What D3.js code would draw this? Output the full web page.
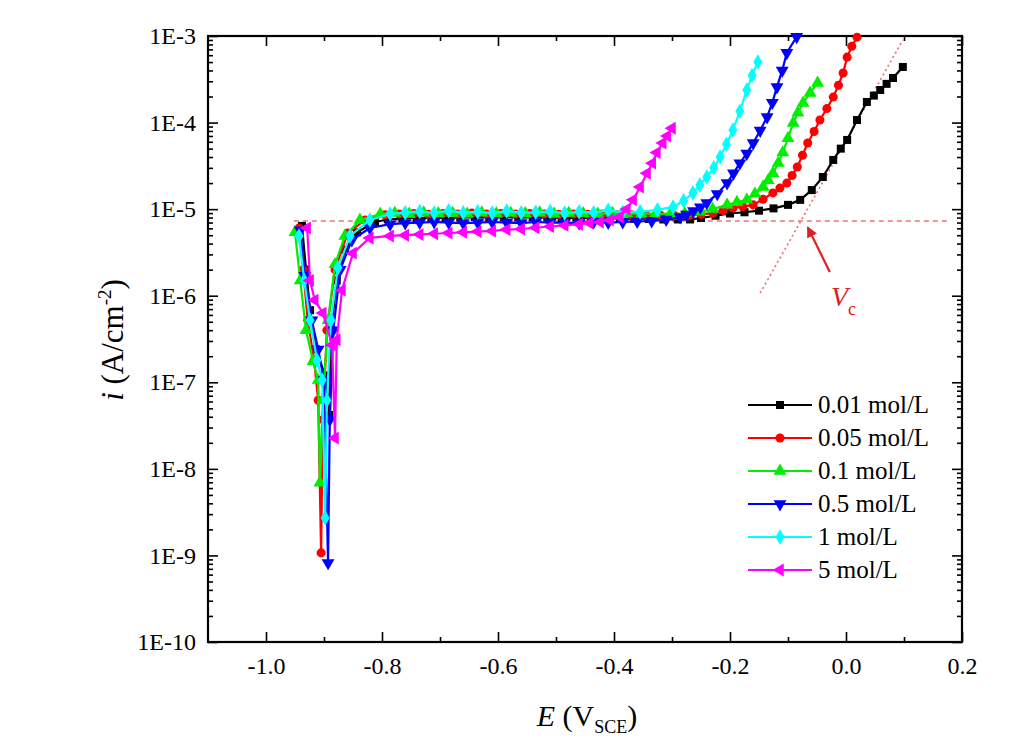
<!DOCTYPE html>
<html><head><meta charset="utf-8">
<script src="https://cdn.jsdelivr.net/npm/d3@7"></script>
<style>
body{margin:0;background:#fff}
svg{display:block}
text{font-family:"Liberation Serif","Times New Roman",serif;fill:#000}
</style>
</head><body>
<svg id="chart" width="1020" height="756"></svg>
<script>
// ---------- data ----------
const categories = ["0.01 mol/L","0.05 mol/L","0.1 mol/L","0.5 mol/L","1 mol/L","5 mol/L"];
const seriesColors = ["#000000","#ff0000","#00ee00","#0000ff","#00ffff","#ff00ff"];
const xMajorTicks = [-1.0,-0.8,-0.6,-0.4,-0.2,0.0,0.2];
const xMinorTicks = [-0.9,-0.7,-0.5,-0.3,-0.1,0.1];
const yMajorTicks = [1e-10,1e-9,1e-8,1e-7,1e-6,1e-5,1e-4,1e-3];
const yTickLabels = ["1E-10","1E-9","1E-8","1E-7","1E-6","1E-5","1E-4","1E-3"];

// [E (V_SCE), i (A/cm2)]
const s001 = [[-0.938,6.4e-6],[-0.931,2.0e-6],[-0.924,6.8e-7],[-0.914,2.4e-7],[-0.898,1.2e-7],[-0.891,4.2e-8],[-0.888,4.0e-7],[-0.878,1.5e-6],[-0.864,3.4e-6],[-0.843,5.4e-6],[-0.812,7.1e-6],
 [-0.79,7.6e-6],[-0.765,7.8e-6],[-0.74,7.9e-6],[-0.715,8.0e-6],[-0.69,7.9e-6],[-0.665,8.0e-6],[-0.64,8.1e-6],[-0.615,8.0e-6],[-0.59,8.1e-6],[-0.565,8.0e-6],[-0.54,8.1e-6],[-0.515,8.0e-6],[-0.49,7.9e-6],[-0.465,8.0e-6],[-0.44,7.9e-6],[-0.415,7.8e-6],[-0.39,7.8e-6],[-0.365,7.7e-6],[-0.34,7.7e-6],[-0.315,7.6e-6],[-0.29,7.6e-6],[-0.269,7.6e-6],
 [-0.25,7.9e-6],[-0.225,8.4e-6],[-0.2,8.9e-6],[-0.175,9.2e-6],[-0.15,9.6e-6],[-0.125,1.02e-5],[-0.1,1.12e-5],[-0.079,1.28e-5],[-0.059,1.66e-5],[-0.04,2.35e-5],[-0.022,3.7e-5],[-0.009,5.0e-5],[0.002,6.3e-5],[0.019,1.07e-4],[0.036,1.73e-4],[0.048,2.05e-4],[0.059,2.38e-4],[0.07,2.8e-4],[0.081,3.27e-4],[0.098,4.39e-4]];
const s005 = [[-0.943,6.05e-6],[-0.936,2.0e-6],[-0.928,5.2e-7],[-0.917,1.8e-7],[-0.91,6.2e-8],[-0.905,1.07e-9],[-0.902,3.7e-8],[-0.895,4.0e-7],[-0.881,2.0e-6],[-0.859,5.3e-6],[-0.829,7.5e-6],[-0.795,8.6e-6],
 [-0.77,8.8e-6],[-0.745,8.9e-6],[-0.72,8.7e-6],[-0.695,8.9e-6],[-0.67,8.8e-6],[-0.645,9.0e-6],[-0.62,8.8e-6],[-0.595,8.9e-6],[-0.57,8.8e-6],[-0.545,8.9e-6],[-0.52,8.8e-6],[-0.495,8.7e-6],[-0.47,8.8e-6],[-0.445,8.7e-6],[-0.42,8.8e-6],[-0.395,8.6e-6],[-0.37,8.6e-6],[-0.345,8.5e-6],[-0.32,8.5e-6],[-0.295,8.4e-6],[-0.27,8.5e-6],[-0.25,8.7e-6],
 [-0.229,9.0e-6],[-0.212,9.6e-6],[-0.195,1.03e-5],[-0.178,1.07e-5],[-0.16,1.12e-5],[-0.143,1.3e-5],[-0.126,1.54e-5],[-0.114,1.75e-5],[-0.102,2.0e-5],[-0.093,2.45e-5],[-0.084,3.07e-5],[-0.075,4.2e-5],[-0.066,5.8e-5],[-0.055,7.9e-5],[-0.045,1.07e-4],[-0.033,1.45e-4],[-0.022,1.97e-4],[-0.013,2.7e-4],[-0.005,3.74e-4],[0.002,5.7e-4],[0.01,7.6e-4],[0.019,9.7e-4]];
const s01 = [[-0.95,5.4e-6],[-0.941,1.5e-6],[-0.931,4.0e-7],[-0.919,1.75e-7],[-0.91,1.06e-7],[-0.907,6.9e-9],[-0.902,6.2e-8],[-0.893,5.2e-7],[-0.881,2.3e-6],[-0.864,4.9e-6],[-0.838,7.5e-6],[-0.803,8.8e-6],
 [-0.778,9.0e-6],[-0.753,8.8e-6],[-0.728,9.1e-6],[-0.703,8.9e-6],[-0.678,9.0e-6],[-0.653,8.8e-6],[-0.628,9.1e-6],[-0.603,8.9e-6],[-0.578,9.0e-6],[-0.553,8.9e-6],[-0.528,9.1e-6],[-0.503,8.8e-6],[-0.478,9.0e-6],[-0.453,8.9e-6],[-0.428,8.8e-6],[-0.403,9.0e-6],[-0.378,8.9e-6],[-0.353,8.8e-6],[-0.328,8.9e-6],[-0.303,8.8e-6],[-0.278,8.9e-6],
 [-0.252,9.3e-6],[-0.23,1.0e-5],[-0.205,1.12e-5],[-0.188,1.2e-5],[-0.171,1.28e-5],[-0.157,1.5e-5],[-0.143,1.8e-5],[-0.134,2.15e-5],[-0.126,2.6e-5],[-0.117,3.4e-5],[-0.109,4.5e-5],[-0.1,6.6e-5],[-0.091,9.9e-5],[-0.083,1.3e-4],[-0.074,1.68e-4],[-0.062,2.2e-4],[-0.049,2.86e-4]];
const s05 = [[-0.941,5.7e-6],[-0.933,1.7e-6],[-0.921,5.2e-7],[-0.91,2.4e-7],[-0.9,1.06e-7],[-0.893,8.2e-10],[-0.89,3.7e-8],[-0.884,4.0e-7],[-0.872,2.0e-6],[-0.852,4.4e-6],[-0.821,6.05e-6],[-0.786,6.7e-6],
 [-0.76,6.9e-6],[-0.735,7.0e-6],[-0.71,7.1e-6],[-0.685,7.0e-6],[-0.66,6.9e-6],[-0.635,7.0e-6],[-0.61,7.1e-6],[-0.585,7.0e-6],[-0.56,6.9e-6],[-0.535,7.1e-6],[-0.51,7.0e-6],[-0.485,7.0e-6],[-0.46,6.9e-6],[-0.435,7.1e-6],[-0.41,7.0e-6],[-0.385,7.1e-6],[-0.36,7.2e-6],[-0.335,7.3e-6],[-0.31,7.6e-6],
 [-0.286,8.1e-6],[-0.275,8.7e-6],[-0.263,9.5e-6],[-0.251,1.05e-5],[-0.24,1.18e-5],[-0.222,1.5e-5],[-0.205,2.0e-5],[-0.194,2.6e-5],[-0.183,3.4e-5],[-0.171,4.4e-5],[-0.16,5.8e-5],[-0.148,8.1e-5],[-0.136,1.16e-4],[-0.127,1.7e-4],[-0.119,2.58e-4],[-0.11,4.0e-4],[-0.102,6.4e-4],[-0.085,9.8e-4]];
const s1 = [[-0.943,4.9e-6],[-0.934,1.5e-6],[-0.924,5.2e-7],[-0.912,1.8e-7],[-0.903,1.06e-7],[-0.898,2.7e-9],[-0.895,6.2e-8],[-0.888,5.2e-7],[-0.876,2.1e-6],[-0.855,4.9e-6],[-0.821,7.5e-6],[-0.786,8.8e-6],
 [-0.76,9.1e-6],[-0.735,9.4e-6],[-0.71,9.0e-6],[-0.685,9.6e-6],[-0.66,9.1e-6],[-0.635,9.3e-6],[-0.61,9.0e-6],[-0.585,9.5e-6],[-0.56,9.1e-6],[-0.535,9.2e-6],[-0.51,9.4e-6],[-0.485,9.0e-6],[-0.46,9.3e-6],[-0.435,9.1e-6],[-0.41,9.7e-6],[-0.385,9.2e-6],
 [-0.355,9.3e-6],[-0.325,9.8e-6],[-0.298,1.06e-5],[-0.28,1.25e-5],[-0.264,1.54e-5],[-0.252,1.9e-5],[-0.24,2.35e-5],[-0.228,3.0e-5],[-0.217,4.0e-5],[-0.206,5.6e-5],[-0.195,8.2e-5],[-0.183,1.35e-4],[-0.171,2.38e-4],[-0.162,3.5e-4],[-0.152,5.0e-4]];
const s5 = [[-0.929,6.05e-6],[-0.924,1.5e-6],[-0.916,8.9e-7],[-0.902,6.3e-7],[-0.886,2.7e-7],[-0.881,2.27e-8],[-0.878,3.1e-7],[-0.869,1.16e-6],[-0.85,3.1e-6],[-0.821,4.65e-6],[-0.786,4.9e-6],
 [-0.76,5.0e-6],[-0.735,5.1e-6],[-0.71,5.2e-6],[-0.685,5.3e-6],[-0.66,5.4e-6],[-0.635,5.5e-6],[-0.61,5.6e-6],[-0.585,5.8e-6],[-0.56,5.9e-6],[-0.535,6.1e-6],[-0.51,6.3e-6],[-0.485,6.5e-6],[-0.46,6.7e-6],[-0.442,6.9e-6],[-0.424,7.1e-6],
 [-0.407,7.5e-6],[-0.39,8.1e-6],[-0.378,1.0e-5],[-0.367,1.28e-5],[-0.355,1.8e-5],[-0.343,2.6e-5],[-0.334,3.4e-5],[-0.326,4.5e-5],[-0.316,5.8e-5],[-0.308,7.0e-5],[-0.3,8.6e-5]];
const seriesData = [s001,s005,s01,s05,s1,s5];

// annotation (Vc construction) in data units
const baselineLine = [[-0.952,7.3e-6],[0.175,7.3e-6]];
const tangentLine = [[-0.148,1.07e-6],[0.098,9.0e-4]];
const vcArrow = [[-0.028,1.88e-6],[-0.066,6.2e-6]];
const vcLabel = [-0.026,7.6e-7];

// ---------- drawing ----------
const svg = d3.select("#chart");
const L=208,R=962,T=36,B=642;
const x = d3.scaleLinear().domain([-1.1,0.2]).range([L,R]);
const y = d3.scaleLog().domain([1e-10,1e-3]).range([B,T]);

const yMinorTicks = [];
for (let e=-10;e<-3;e++) for (let k=2;k<=9;k++) yMinorTicks.push(k*Math.pow(10,e));

const fmtX = d => d.toFixed(1);

function styleAxis(g){
  g.select(".domain").remove();
  g.selectAll(".tick line").attr("stroke","#000").attr("stroke-width",1.6);
  g.selectAll(".tick text").style("font-size","24px").style("font-family","'Liberation Serif',serif");
}
// bottom
svg.append("g").attr("transform",`translate(0,${B})`)
  .call(d3.axisBottom(x).tickValues(xMajorTicks).tickSize(-10).tickPadding(15).tickFormat(fmtX)).call(styleAxis);
svg.append("g").attr("transform",`translate(0,${B})`)
  .call(d3.axisBottom(x).tickValues(xMinorTicks).tickSize(-5).tickFormat("")).call(styleAxis);
// top
svg.append("g").attr("transform",`translate(0,${T})`)
  .call(d3.axisTop(x).tickValues(xMajorTicks).tickSize(-10).tickFormat("")).call(styleAxis);
svg.append("g").attr("transform",`translate(0,${T})`)
  .call(d3.axisTop(x).tickValues(xMinorTicks).tickSize(-5).tickFormat("")).call(styleAxis);
// left
svg.append("g").attr("transform",`translate(${L},0)`)
  .call(d3.axisLeft(y).tickValues(yMajorTicks).tickSize(-10).tickPadding(12).tickFormat((d,i)=>yTickLabels[i])).call(styleAxis);
svg.append("g").attr("transform",`translate(${L},0)`)
  .call(d3.axisLeft(y).tickValues(yMinorTicks).tickSize(-5).tickFormat("")).call(styleAxis);
// right
svg.append("g").attr("transform",`translate(${R},0)`)
  .call(d3.axisRight(y).tickValues(yMajorTicks).tickSize(-10).tickFormat("")).call(styleAxis);
svg.append("g").attr("transform",`translate(${R},0)`)
  .call(d3.axisRight(y).tickValues(yMinorTicks).tickSize(-5).tickFormat("")).call(styleAxis);

// frame
svg.append("rect").attr("x",L).attr("y",T).attr("width",R-L).attr("height",B-T)
  .attr("fill","none").attr("stroke","#000").attr("stroke-width",2.2);

const plot = svg.append("g");
svg.append("clipPath").attr("id","clip").append("rect").attr("x",L).attr("y",T-5).attr("width",R-L).attr("height",B-T+5);

// guide lines
const line = d3.line().x(d=>x(d[0])).y(d=>y(d[1]));
plot.append("path").attr("d",line(baselineLine)).attr("fill","none")
  .attr("stroke","#e85a5a").attr("stroke-width",1.7).attr("stroke-dasharray","5,4").attr("opacity",0.85);
plot.append("path").attr("d",line(tangentLine)).attr("fill","none")
  .attr("stroke","#e85a5a").attr("stroke-width",1.7).attr("stroke-dasharray","2,3").attr("opacity",0.85);

// symbols
const symbolDefs = [
  {t:d3.symbolSquare, r:0, s:64},
  {t:d3.symbolCircle, r:0, s:64},
  {t:d3.symbolTriangle, r:0, s:72},
  {t:d3.symbolTriangle, r:180, s:72},
  {t:d3.symbolDiamond, r:0, s:70},
  {t:d3.symbolTriangle, r:-90, s:72}
];

const curves = plot.append("g").attr("clip-path","url(#clip)");
seriesData.forEach((data,k)=>{
  const g = curves.append("g");
  g.append("path").attr("d",line(data)).attr("fill","none")
    .attr("stroke",seriesColors[k]).attr("stroke-width",2.2).attr("stroke-linejoin","round");
  const sym = d3.symbol().type(symbolDefs[k].t).size(symbolDefs[k].s);
  g.selectAll("path.m").data(data).enter().append("path").attr("class","m")
    .attr("d",sym)
    .attr("transform",d=>`translate(${x(d[0])},${y(d[1])}) rotate(${symbolDefs[k].r})`)
    .attr("fill",seriesColors[k]);
});

// Vc arrow
const ax1=x(vcArrow[0][0]), ay1=y(vcArrow[0][1]), ax2=x(vcArrow[1][0]), ay2=y(vcArrow[1][1]);
svg.append("defs").append("marker").attr("id","arr").attr("viewBox","0 0 10 10").attr("refX",9).attr("refY",5)
  .attr("markerWidth",5).attr("markerHeight",5).attr("orient","auto")
  .append("path").attr("d","M0,0 L10,5 L0,10 z").attr("fill","#e02020");
svg.append("line").attr("x1",ax1).attr("y1",ay1).attr("x2",ax2).attr("y2",ay2)
  .attr("stroke","#e02020").attr("stroke-width",2.2).attr("marker-end","url(#arr)");
const vt = svg.append("text").attr("x",x(vcLabel[0])).attr("y",y(vcLabel[1]))
  .style("font-size","28px").style("fill","#e02020");
vt.append("tspan").text("V").style("font-style","italic");
vt.append("tspan").text("c").attr("dy",9).style("font-size","18px");

// legend
const legX = 748, legY0 = 405, legDy = 33;
categories.forEach((c,k)=>{
  const yy = legY0 + k*legDy;
  svg.append("line").attr("x1",legX).attr("x2",legX+64).attr("y1",yy).attr("y2",yy)
    .attr("stroke",seriesColors[k]).attr("stroke-width",2.2);
  const sym = d3.symbol().type(symbolDefs[k].t).size(symbolDefs[k].s);
  svg.append("path").attr("d",sym).attr("transform",`translate(${legX+32},${yy}) rotate(${symbolDefs[k].r})`)
    .attr("fill",seriesColors[k]);
  svg.append("text").attr("x",legX+70).attr("y",yy+8).style("font-size","25px").text(c);
});

// axis titles
const xt = svg.append("text").attr("x",587).attr("y",726).attr("text-anchor","middle").style("font-size","30px");
xt.append("tspan").text("E").style("font-style","italic");
xt.append("tspan").text(" (V");
xt.append("tspan").text("SCE").attr("dy",7).style("font-size","18px");
xt.append("tspan").text(")").attr("dy",-7);

const yt = svg.append("text").attr("transform","translate(123,340) rotate(-90)").attr("text-anchor","middle").style("font-size","31px");
yt.append("tspan").text("i").style("font-style","italic");
yt.append("tspan").text(" (A/cm");
yt.append("tspan").text("-2").attr("dy",-12).style("font-size","19px");
yt.append("tspan").text(")").attr("dy",12);
</script>
</body></html>
